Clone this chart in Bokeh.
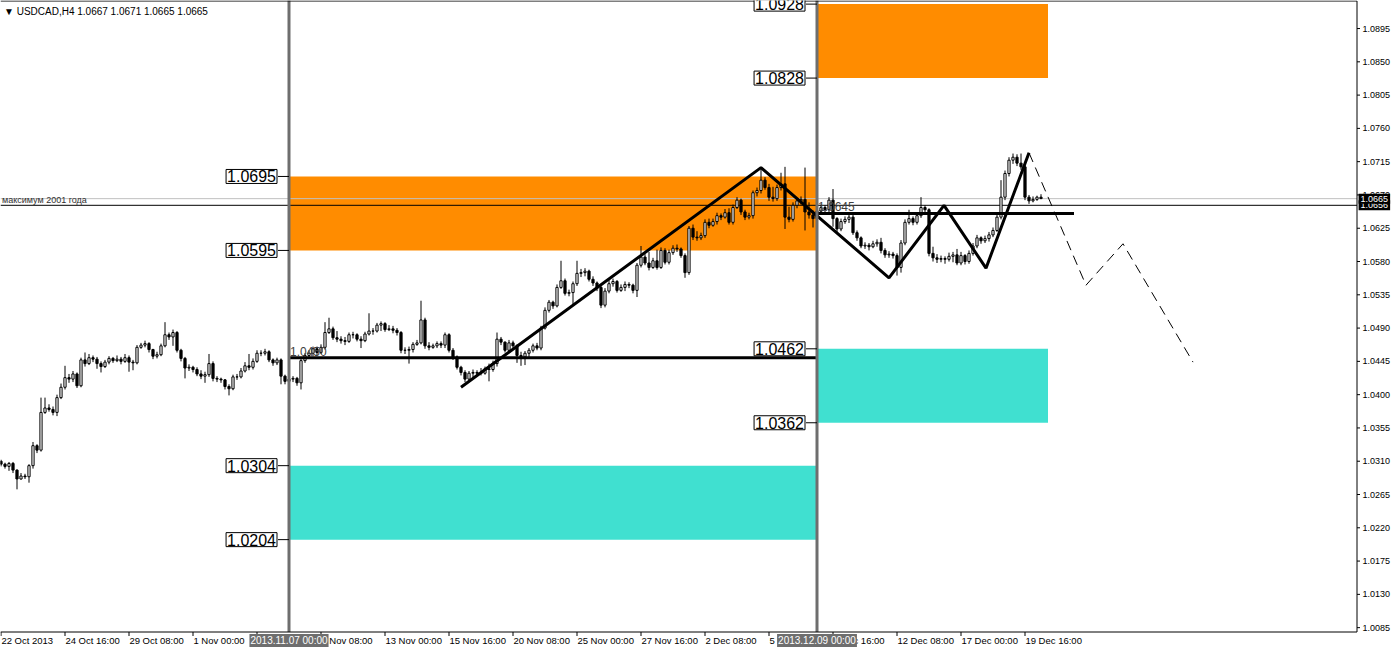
from bokeh.plotting import figure
from bokeh.models import Range1d, ColumnDataSource, LabelSet, Label
from bokeh.core.properties import value
from bokeh.embed import file_html
from bokeh.resources import INLINE

# ---------------- data ----------------
symbol_title = "\u25BC USDCAD,H4  1.0667 1.0671 1.0665 1.0665"

first_open = 1.0310
closes = [
    1.0306, 1.0303, 1.0307, 1.0298, 1.0286, 1.0290, 1.0289, 1.0304, 1.0331, 1.0325,
    1.0376, 1.0382, 1.0380, 1.0376, 1.0396, 1.0410, 1.0423, 1.0421, 1.0428, 1.0412,
    1.0447, 1.0442, 1.0450, 1.0448, 1.0442, 1.0438, 1.0444, 1.0449, 1.0446, 1.0448,
    1.0445, 1.0450, 1.0444, 1.0443, 1.0464, 1.0467, 1.0469, 1.0461, 1.0452, 1.0454,
    1.0466, 1.0481, 1.0478, 1.0484, 1.0460, 1.0449, 1.0436, 1.0437, 1.0434, 1.0428,
    1.0425, 1.0427, 1.0442, 1.0422, 1.0421, 1.0420, 1.0411, 1.0408, 1.0424, 1.0424,
    1.0432, 1.0439, 1.0437, 1.0445, 1.0456, 1.0456, 1.0458, 1.0447, 1.0443, 1.0447,
    1.0425, 1.0418, 1.0421, 1.0422, 1.0416, 1.0446, 1.0453, 1.0456, 1.0462, 1.0457,
    1.0464, 1.0484, 1.0489, 1.0477, 1.0475, 1.0473, 1.0472, 1.0481, 1.0481, 1.0475,
    1.0473, 1.0482, 1.0486, 1.0486, 1.0494, 1.0496, 1.0488, 1.0489, 1.0487, 1.0484,
    1.0460, 1.0460, 1.0461, 1.0468, 1.0470, 1.0501, 1.0466, 1.0464, 1.0466, 1.0469,
    1.0467, 1.0481, 1.0460, 1.0451, 1.0437, 1.0430, 1.0421, 1.0429, 1.0430, 1.0429,
    1.0429, 1.0435, 1.0434, 1.0442, 1.0475, 1.0471, 1.0460, 1.0470, 1.0466, 1.0453,
    1.0451, 1.0456, 1.0460, 1.0466, 1.0463, 1.0490, 1.0514, 1.0525, 1.0520, 1.0545,
    1.0554, 1.0537, 1.0538, 1.0550, 1.0564, 1.0565, 1.0567, 1.0556, 1.0551, 1.0545,
    1.0521, 1.0540, 1.0550, 1.0553, 1.0541, 1.0545, 1.0549, 1.0548, 1.0541, 1.0575,
    1.0586, 1.0578, 1.0572, 1.0581, 1.0572, 1.0595, 1.0579, 1.0592, 1.0598, 1.0597,
    1.0588, 1.0565, 1.0625, 1.0613, 1.0612, 1.0615, 1.0633, 1.0629, 1.0634, 1.0642,
    1.0640, 1.0646, 1.0633, 1.0653, 1.0663, 1.0647, 1.0640, 1.0642, 1.0673, 1.0676,
    1.0690, 1.0680, 1.0667, 1.0665, 1.0680, 1.0685, 1.0640, 1.0637, 1.0656, 1.0662,
    1.0664, 1.0647, 1.0643, 1.0638, 1.0648, 1.0653, 1.0650, 1.0663, 1.0638, 1.0624,
    1.0634, 1.0637, 1.0640, 1.0619, 1.0612, 1.0601, 1.0602, 1.0600, 1.0604, 1.0606,
    1.0595, 1.0589, 1.0590, 1.0588, 1.0572, 1.0605, 1.0633, 1.0638, 1.0633, 1.0642,
    1.0653, 1.0650, 1.0591, 1.0585, 1.0583, 1.0584, 1.0583, 1.0587, 1.0589, 1.0578,
    1.0588, 1.0580, 1.0591, 1.0601, 1.0612, 1.0608, 1.0611, 1.0616, 1.0622, 1.0640,
    1.0667, 1.0699, 1.0717, 1.0721, 1.0713, 1.0708, 1.0667, 1.0662, 1.0664, 1.0667,
    1.0665]

highs = [
    1.0312, 1.0308, 1.0309, 1.0309, 1.0299, 1.0294, 1.0293, 1.0306, 1.0336, 1.0333,
    1.0396, 1.0396, 1.0387, 1.0384, 1.0400, 1.0415, 1.0439, 1.0428, 1.0432, 1.0430,
    1.0450, 1.0457, 1.0455, 1.0453, 1.0451, 1.0445, 1.0447, 1.0452, 1.0451, 1.0453,
    1.0451, 1.0455, 1.0453, 1.0447, 1.0467, 1.0470, 1.0473, 1.0471, 1.0462, 1.0458,
    1.0469, 1.0498, 1.0484, 1.0488, 1.0486, 1.0462, 1.0451, 1.0441, 1.0439, 1.0437,
    1.0433, 1.0431, 1.0455, 1.0445, 1.0425, 1.0423, 1.0421, 1.0414, 1.0427, 1.0428,
    1.0436, 1.0444, 1.0455, 1.0449, 1.0460, 1.0460, 1.0462, 1.0460, 1.0449, 1.0450,
    1.0449, 1.0427, 1.0424, 1.0425, 1.0424, 1.0449, 1.0456, 1.0460, 1.0465, 1.0465,
    1.0468, 1.0498, 1.0504, 1.0492, 1.0486, 1.0479, 1.0478, 1.0484, 1.0485, 1.0483,
    1.0479, 1.0485, 1.0510, 1.0490, 1.0497, 1.0499, 1.0498, 1.0494, 1.0493, 1.0490,
    1.0486, 1.0464, 1.0465, 1.0471, 1.0474, 1.0527, 1.0504, 1.0471, 1.0469, 1.0472,
    1.0472, 1.0484, 1.0483, 1.0463, 1.0453, 1.0439, 1.0433, 1.0432, 1.0434, 1.0433,
    1.0436, 1.0438, 1.0442, 1.0446, 1.0484, 1.0478, 1.0472, 1.0474, 1.0473, 1.0468,
    1.0458, 1.0459, 1.0463, 1.0469, 1.0470, 1.0493, 1.0518, 1.0528, 1.0527, 1.0549,
    1.0581, 1.0557, 1.0542, 1.0553, 1.0581, 1.0570, 1.0571, 1.0569, 1.0560, 1.0553,
    1.0547, 1.0544, 1.0555, 1.0557, 1.0555, 1.0549, 1.0553, 1.0552, 1.0550, 1.0578,
    1.0601, 1.0590, 1.0593, 1.0585, 1.0596, 1.0599, 1.0598, 1.0596, 1.0602, 1.0603,
    1.0599, 1.0591, 1.0628, 1.0630, 1.0621, 1.0619, 1.0637, 1.0638, 1.0638, 1.0646,
    1.0645, 1.0651, 1.0652, 1.0657, 1.0667, 1.0665, 1.0650, 1.0646, 1.0676, 1.0680,
    1.0707, 1.0694, 1.0685, 1.0681, 1.0684, 1.0700, 1.0708, 1.0654, 1.0660, 1.0666,
    1.0668, 1.0707, 1.0660, 1.0649, 1.0654, 1.0657, 1.0656, 1.0667, 1.0678, 1.0640,
    1.0638, 1.0641, 1.0645, 1.0643, 1.0622, 1.0614, 1.0606, 1.0605, 1.0608, 1.0610,
    1.0612, 1.0598, 1.0594, 1.0593, 1.0591, 1.0609, 1.0637, 1.0650, 1.0641, 1.0646,
    1.0667, 1.0656, 1.0652, 1.0600, 1.0590, 1.0588, 1.0587, 1.0592, 1.0593, 1.0597,
    1.0593, 1.0590, 1.0595, 1.0605, 1.0616, 1.0614, 1.0615, 1.0620, 1.0626, 1.0644,
    1.0690, 1.0703, 1.0721, 1.0726, 1.0725, 1.0726, 1.0711, 1.0670, 1.0668, 1.0669,
    1.0671]

lows = [
    1.0303, 1.0300, 1.0297, 1.0294, 1.0272, 1.0285, 1.0286, 1.0281, 1.0300, 1.0321,
    1.0323, 1.0374, 1.0377, 1.0372, 1.0371, 1.0394, 1.0407, 1.0416, 1.0417, 1.0409,
    1.0410, 1.0438, 1.0440, 1.0444, 1.0435, 1.0430, 1.0436, 1.0441, 1.0443, 1.0444,
    1.0441, 1.0443, 1.0431, 1.0433, 1.0441, 1.0462, 1.0464, 1.0457, 1.0448, 1.0449,
    1.0452, 1.0464, 1.0474, 1.0466, 1.0457, 1.0445, 1.0422, 1.0432, 1.0430, 1.0425,
    1.0421, 1.0416, 1.0424, 1.0418, 1.0417, 1.0416, 1.0407, 1.0399, 1.0406, 1.0420,
    1.0422, 1.0430, 1.0433, 1.0434, 1.0443, 1.0452, 1.0453, 1.0444, 1.0439, 1.0440,
    1.0414, 1.0414, 1.0416, 1.0417, 1.0412, 1.0407, 1.0443, 1.0450, 1.0452, 1.0453,
    1.0455, 1.0461, 1.0482, 1.0474, 1.0471, 1.0469, 1.0467, 1.0470, 1.0476, 1.0472,
    1.0463, 1.0471, 1.0480, 1.0481, 1.0484, 1.0486, 1.0485, 1.0486, 1.0483, 1.0480,
    1.0456, 1.0455, 1.0442, 1.0457, 1.0466, 1.0468, 1.0462, 1.0460, 1.0462, 1.0463,
    1.0463, 1.0463, 1.0457, 1.0447, 1.0434, 1.0426, 1.0417, 1.0418, 1.0422, 1.0425,
    1.0426, 1.0427, 1.0418, 1.0431, 1.0438, 1.0467, 1.0457, 1.0458, 1.0462, 1.0443,
    1.0439, 1.0440, 1.0450, 1.0457, 1.0460, 1.0460, 1.0488, 1.0511, 1.0516, 1.0518,
    1.0543, 1.0534, 1.0533, 1.0521, 1.0547, 1.0559, 1.0560, 1.0553, 1.0547, 1.0540,
    1.0517, 1.0518, 1.0537, 1.0546, 1.0538, 1.0539, 1.0540, 1.0544, 1.0537, 1.0532,
    1.0572, 1.0575, 1.0568, 1.0570, 1.0569, 1.0570, 1.0576, 1.0576, 1.0589, 1.0593,
    1.0585, 1.0558, 1.0562, 1.0609, 1.0608, 1.0609, 1.0612, 1.0625, 1.0627, 1.0630,
    1.0636, 1.0638, 1.0630, 1.0630, 1.0651, 1.0643, 1.0636, 1.0637, 1.0638, 1.0668,
    1.0672, 1.0677, 1.0662, 1.0661, 1.0662, 1.0676, 1.0624, 1.0633, 1.0634, 1.0652,
    1.0657, 1.0622, 1.0638, 1.0626, 1.0634, 1.0644, 1.0646, 1.0647, 1.0627, 1.0620,
    1.0621, 1.0631, 1.0632, 1.0616, 1.0608, 1.0598, 1.0597, 1.0595, 1.0598, 1.0600,
    1.0591, 1.0585, 1.0585, 1.0584, 1.0561, 1.0565, 1.0602, 1.0630, 1.0629, 1.0630,
    1.0639, 1.0645, 1.0587, 1.0580, 1.0578, 1.0579, 1.0577, 1.0580, 1.0579, 1.0575,
    1.0575, 1.0576, 1.0577, 1.0588, 1.0598, 1.0604, 1.0605, 1.0607, 1.0613, 1.0620,
    1.0637, 1.0663, 1.0695, 1.0712, 1.0709, 1.0704, 1.0663, 1.0658, 1.0660, 1.0662,
    1.0665]

opens = [first_open] + closes[:-1]
bars = list(range(len(closes)))

# time axis (bar index of 4-hour bars)
date_ticks = [0, 16, 32, 48, 64, 80, 96, 112, 128, 144, 160, 176, 192, 208, 224, 240, 256]
date_labels = ["22 Oct 2013", "24 Oct 16:00", "29 Oct 08:00", "1 Nov 00:00", "5 Nov 16:00",
               "8 Nov 08:00", "13 Nov 00:00", "15 Nov 16:00", "20 Nov 08:00", "25 Nov 00:00",
               "27 Nov 16:00", "2 Dec 08:00", "5 Dec 00:00", "9 Dec 16:00", "12 Dec 08:00",
               "17 Dec 00:00", "19 Dec 16:00"]

# price axis
y_ticks = [1.0085, 1.0130, 1.0175, 1.0220, 1.0265, 1.0310, 1.0355, 1.0400, 1.0445, 1.0490,
           1.0535, 1.0580, 1.0625, 1.0670, 1.0715, 1.0760, 1.0805, 1.0850, 1.0895]

# zones
zone_left = [72, 72, 204, 204]
zone_right = [204, 204, 261.75, 261.75]
zone_bottom = [1.0595, 1.0204, 1.0828, 1.0362]
zone_top = [1.0695, 1.0304, 1.0928, 1.0462]
zone_colors = ["#FF8C00", "#40E0D0", "#FF8C00", "#40E0D0"]

# boxed price labels on zone edges
level_bars = [72, 72, 72, 72, 204, 204, 204, 204]
level_prices = [1.0695, 1.0595, 1.0304, 1.0204, 1.0928, 1.0828, 1.0462, 1.0362]
level_texts = ["1.0695", "1.0595", "1.0304", "1.0204", "1.0928", "1.0828", "1.0462", "1.0362"]

# vertical lines
vline_bars = [72, 204]
vline_texts = ["2013.11.07 00:00", "2013.12.09 00:00"]

# horizontal levels
hline_prices = [1.0450, 1.0645]
hline_start = [72, 204]
hline_end = [204, 268.25]
hline_texts = ["1.0450", "1.0645"]

# wave pattern (trend lines) and forecast (dashed)
wave_bars = [115, 190, 222, 235.75, 246.25, 257]
wave_prices = [1.0410, 1.0707, 1.0558, 1.0656, 1.0571, 1.0727]
fcst_bars = [257, 271.25, 280.5, 298]
fcst_prices = [1.0727, 1.0548, 1.0604, 1.0444]

bid_price = 1.0665
max2001_price = 1.0656
max2001_text = "максимум 2001 года"
axis_box_prices = [1.0656, 1.0665]
axis_box_texts = ["1.0656", "1.0665"]

# ---------------- layout constants ----------------
W, H = 1397, 650
PX = 0.0001352            # price per pixel row
TOP = 1.09329             # price at the top row
BAR_PX = 4.0              # pixels per bar
X_START = -0.125          # bar at the left edge
AXIS_X = 339.0            # bar position of the price-axis line
AXIS_Y = TOP - 631.5 * PX # price of the time-axis line
FRAME_TOP = TOP - 0.5 * PX
FONT = "Liberation Sans"

p = figure(width=W, height=H, output_backend="svg", toolbar_location=None,
           x_range=Range1d(X_START, X_START + W / BAR_PX), y_range=Range1d(TOP - H * PX, TOP),
           x_axis_location=None, y_axis_location=None,
           min_border=0, min_border_left=0, min_border_right=0,
           min_border_top=0, min_border_bottom=0)
p.background_fill_color = "white"
p.border_fill_color = "white"
p.outline_line_color = None
p.xgrid.visible = False
p.ygrid.visible = False

# zones
p.quad(left=zone_left, right=zone_right, bottom=zone_bottom, top=zone_top,
       fill_color=zone_colors, line_color=None)

# full-width lines (bid line and "2001 maximum")
p.segment(x0=[X_START, X_START], y0=[bid_price, max2001_price], x1=[AXIS_X, AXIS_X],
          y1=[bid_price, max2001_price], line_color=["#C0C0C0", "black"], line_width=1)

# candles
src = ColumnDataSource(dict(
    x=bars, hi=highs, lo=lows,
    top=[max(o, c) for o, c in zip(opens, closes)],
    bot=[min(o, c) for o, c in zip(opens, closes)],
    fill=["white" if c >= o else "black" for o, c in zip(opens, closes)],
))
p.segment(x0="x", y0="lo", x1="x", y1="hi", source=src, line_color="black", line_width=1)
p.vbar(x="x", width=0.55, top="top", bottom="bot", source=src,
       fill_color="fill", line_color="black", line_width=1)

# horizontal levels
p.segment(x0=hline_start, y0=hline_prices, x1=hline_end, y1=hline_prices,
          line_color="black", line_width=3)

# wave + forecast
p.line(wave_bars, wave_prices, line_color="black", line_width=3)
p.line(fcst_bars, fcst_prices, line_color="black", line_width=1, line_dash="10 6")

# vertical lines
p.segment(x0=vline_bars, y0=[AXIS_Y] * 2, x1=vline_bars, y1=[TOP] * 2,
          line_color="#6E6E6E", line_width=3)

# connectors of boxed price labels
p.segment(x0=[b - 2.75 for b in level_bars], y0=level_prices, x1=level_bars, y1=level_prices,
          line_color="black", line_width=1)

# frame lines (chart border)
p.segment(x0=[X_START, AXIS_X, X_START], y0=[FRAME_TOP, FRAME_TOP, AXIS_Y],
          x1=[AXIS_X, AXIS_X, AXIS_X], y1=[FRAME_TOP, AXIS_Y, AXIS_Y],
          line_color="black", line_width=1)

# price axis ticks and labels
p.segment(x0=[AXIS_X] * len(y_ticks), y0=y_ticks, x1=[AXIS_X + 0.75] * len(y_ticks), y1=y_ticks,
          line_color="black", line_width=1)
p.text(x=[AXIS_X + 1.4] * len(y_ticks), y=y_ticks, text=[f"{t:.4f}" for t in y_ticks],
       text_font=value(FONT), text_font_size="9px", text_color="black",
       text_align="left", text_baseline="middle")

# time axis ticks and labels
p.segment(x0=date_ticks, y0=[AXIS_Y] * len(date_ticks), x1=date_ticks,
          y1=[AXIS_Y - 4 * PX] * len(date_ticks), line_color="black", line_width=1)
date_y = TOP - 640 * PX
p.text(x=[t + 0.1 for t in date_ticks], y=[date_y] * len(date_ticks), text=date_labels,
       text_font=value(FONT), text_font_size="9.5px", text_color="black",
       text_align="left", text_baseline="middle")

# level texts
hsrc = ColumnDataSource(dict(x=hline_start, y=hline_prices, t=hline_texts))
p.add_layout(LabelSet(x="x", y="y", text="t", source=hsrc, x_offset=1, y_offset=2,
                      text_align="left", text_baseline="bottom",
                      text_font=value(FONT), text_font_size="12px", text_color="#404040"))

p.add_layout(Label(x=0, y=max2001_price, text=max2001_text, x_offset=1, y_offset=0,
                   text_align="left", text_baseline="bottom",
                   text_font=FONT, text_font_size="9px", text_color="#303030"))

# boxed price labels
for b, pr, t in zip(level_bars, level_prices, level_texts):
    p.add_layout(Label(x=b, y=pr, text=t, x_offset=-12,
                       text_align="right", text_baseline="middle",
                       text_font=FONT, text_font_size="16px", text_color="black",
                       background_fill_color="white", border_line_color="black",
                       border_line_width=1, padding=1))

# title
p.add_layout(Label(x=0, y=TOP - 11 * PX, text=symbol_title, x_offset=3,
                   text_align="left", text_baseline="middle",
                   text_font=FONT, text_font_size="10px", text_color="black"))

# highlighted dates of the vertical lines
for b, t in zip(vline_bars, vline_texts):
    p.add_layout(Label(x=b, y=date_y, text=t, text_align="center", text_baseline="middle",
                       text_font=FONT, text_font_size="10px", text_color="white",
                       background_fill_color="#6E6E6E", padding=1))

# black price boxes on the price axis
for pr, t in zip(axis_box_prices, axis_box_texts):
    p.add_layout(Label(x=AXIS_X + 0.4, y=pr, text=t, text_align="left", text_baseline="middle",
                       text_font=FONT, text_font_size="9px", text_color="white",
                       background_fill_color="black", padding=2))

open("out.html", "w").write(file_html(p, INLINE))
